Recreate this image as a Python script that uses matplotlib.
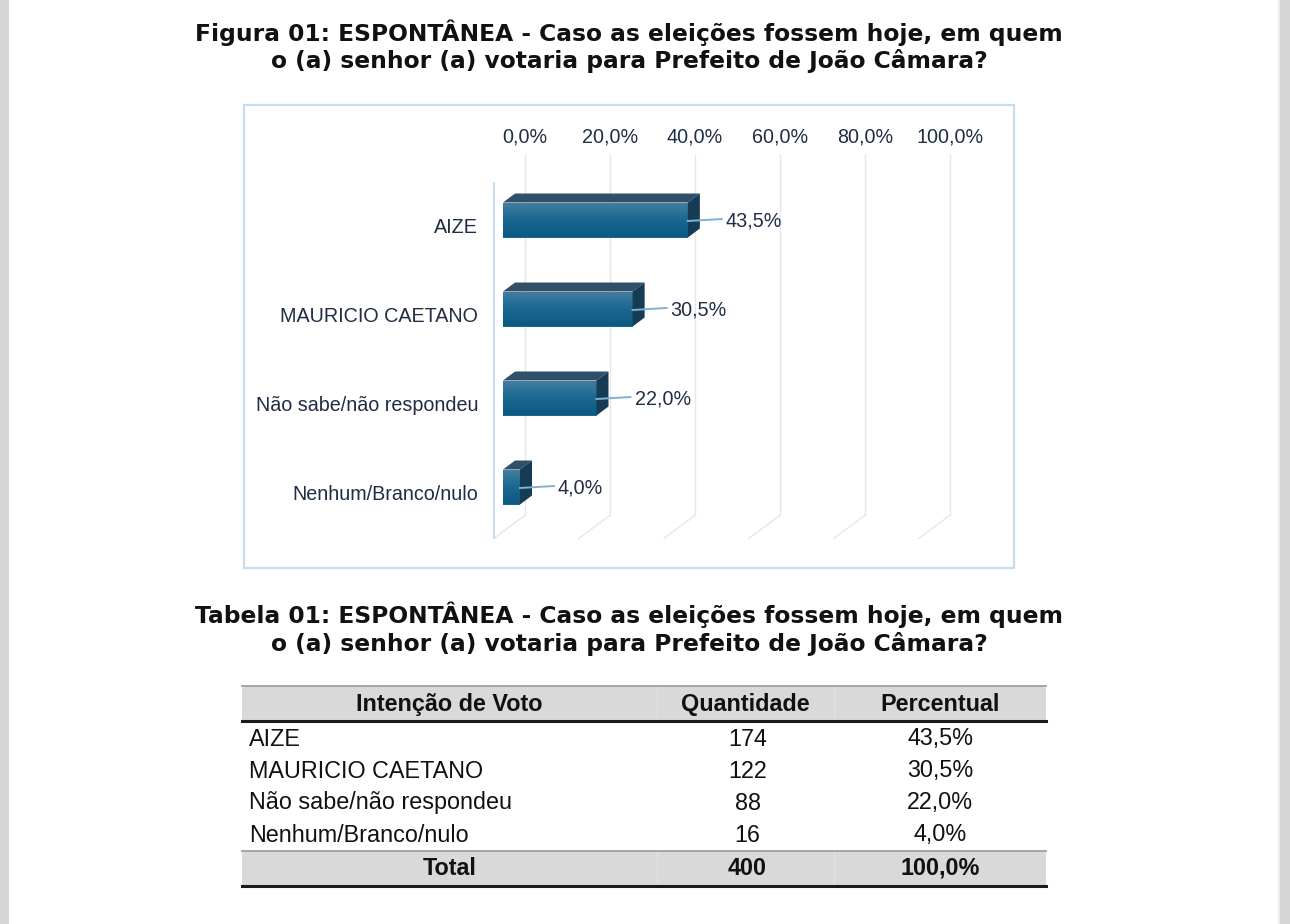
import matplotlib
matplotlib.use("Agg")
import matplotlib.pyplot as plt
import matplotlib.transforms as mtransforms
from matplotlib.patches import Rectangle, Polygon
from matplotlib.colors import LinearSegmentedColormap
import numpy as np

# data
categories = ["AIZE", "MAURICIO CAETANO", "Não sabe/não respondeu", "Nenhum/Branco/nulo"]
percentuais = [43.5, 30.5, 22.0, 4.0]
quantidades = [174, 122, 88, 16]
x_ticks = [0, 20, 40, 60, 80, 100]
cabecalho = ["Intenção de Voto", "Quantidade", "Percentual"]

titulo_fig = ["Figura 01: ESPONTÂNEA - Caso as eleições fossem hoje, em quem",
              "o (a) senhor (a) votaria para Prefeito de João Câmara?"]
titulo_tab = ["Tabela 01: ESPONTÂNEA - Caso as eleições fossem hoje, em quem",
              "o (a) senhor (a) votaria para Prefeito de João Câmara?"]

def fmt(v):
    return f"{v:.1f}%".replace(".", ",")

W, H = 1290, 924
fig = plt.figure(figsize=(W / 100, H / 100), dpi=100)
fig.patch.set_facecolor("white")

# page layer in pixel coords (y down)
bg = fig.add_axes([0, 0, 1, 1])
bg.set_xlim(0, W)
bg.set_ylim(H, 0)
bg.axis("off")

bg.add_patch(Rectangle((0, 0), 9, H, color="#d6d6d6", lw=0))
bg.add_patch(Rectangle((1280, 0), 10, H, color="#d6d6d6", lw=0))
bg.add_patch(Rectangle((1278, 0), 2, H, color="#ececec", lw=0))

for (y1, y2), linhas in [((33, 61), titulo_fig), ((615, 644), titulo_tab)]:
    for y, txt in zip((y1, y2), linhas):
        bg.text(629, y, txt, ha="center", va="center", fontsize=16.8, fontweight="bold",
                family="DejaVu Sans", color="#111111")

# chart frame
bg.add_patch(Rectangle((244, 105), 770, 463, fill=False, ec="#c8dcee", lw=1.6))

# bar chart axes
left, right, top, bottom = 494, 1000, 183, 538
ax = fig.add_axes([left / W, (H - bottom) / H, (right - left) / W, (bottom - top) / H])
ax.axis("off")
sx = 4.25   # px per %
sy = 89.0   # px per category
x0px, y0px = 503, 220
ax.set_xlim((left - x0px) / sx, (right - x0px) / sx)
ax.set_ylim((bottom - y0px) / sy, (top - y0px) / sy)

def plane(dx):
    # depth plane shifted dx px to the right and 0.75*dx px up
    return mtransforms.offset_copy(ax.transData, fig=fig, x=dx, y=0.75 * dx, units="dots")

back = plane(22)
front = plane(-9)
grid_c = "#e4e7eb"
floor_c = 3.5
cfont = dict(fontsize=14.2, family="Liberation Sans", color="#1f2d45")
for t in x_ticks:
    ax.plot([t, t], [-0.545, floor_c], color=grid_c, lw=1.0, transform=back, clip_on=False, zorder=1)
    ax.plot([t + 31 / sx, t], [floor_c - 23 / sy, floor_c],
            color=grid_c, lw=1.0, transform=front, clip_on=False, zorder=1)
    ax.text(t, -0.75, fmt(t), transform=back, ha="center", va="center", **cfont)

ax.plot([0, 0], [-0.49, floor_c], color="#c6d9ec", lw=1.3, transform=front, clip_on=False, zorder=2)

# bars (front face + gradient), top and side faces
h = 35 / sy
ddx, ddy = 12 / sx, 9 / sy
grad = LinearSegmentedColormap.from_list("g", ["#467ea2", "#1a6890", "#0c5a83"])
bars = ax.barh(range(len(categories)), percentuais, height=h, color="#1a6890", lw=0, zorder=3)
for i, (b, v) in enumerate(zip(bars, percentuais)):
    im = ax.imshow(np.linspace(0, 1, 50).reshape(-1, 1), cmap=grad, aspect="auto",
                   extent=(0, v, i + h / 2, i - h / 2), zorder=3)
    im.set_clip_path(b)
    yt, yb = i - h / 2, i + h / 2
    ax.add_patch(Polygon([(0, yt), (v, yt), (v + ddx, yt - ddy), (ddx, yt - ddy)],
                         closed=True, fc="#30506a", ec="none", zorder=4))
    ax.add_patch(Polygon([(v, yt), (v, yb), (v + ddx, yb - ddy), (v + ddx, yt - ddy)],
                         closed=True, fc="#163b55", ec="none", zorder=4))
    ax.plot([v, v + 34 / sx], [i + 1 / sy, i - 1 / sy], color="#7fb2d8", lw=1.4, zorder=5)
    ax.text(v + 38 / sx, i + 1 / sy, fmt(v), ha="left", va="center", zorder=5, **cfont)

for i, c in enumerate(categories):
    ax.text(0, i, c, transform=mtransforms.offset_copy(front, fig=fig, x=-16, y=-1, units="dots"),
            ha="right", va="center", **cfont)

ax.set_xlim((left - x0px) / sx, (right - x0px) / sx)
ax.set_ylim((bottom - y0px) / sy, (top - y0px) / sy)

# table
cols = [242, 657, 834, 1046]
cx = [(cols[k] + cols[k + 1]) / 2 for k in range(3)]
tfont = dict(family="Liberation Sans", fontsize=16.8, color="#111111")
hdr_top, hdr_bot = 686, 721
row_h = 32
first_row = 739

def gray_row(y_top, y_bot):
    bg.add_patch(Rectangle((cols[0], y_top), cols[3] - cols[0], y_bot - y_top, color="#d9d9d9", lw=0))
    for xs in cols[1:3]:
        bg.plot([xs, xs], [y_top, y_bot], color="#e3e3e3", lw=1)
    bg.plot([cols[0], cols[3]], [y_top, y_top], color="#a0a0a0", lw=1.3)
    bg.plot([cols[0], cols[3]], [y_bot, y_bot], color="#1a1a1a", lw=2.2)

gray_row(hdr_top, hdr_bot)
for k, txt in enumerate(cabecalho):
    bg.text(cx[k], (hdr_top + hdr_bot) / 2 + 1, txt, ha="center", va="center", fontweight="bold", **tfont)

for i, (n, q, p) in enumerate(zip(categories, quantidades, percentuais)):
    y = first_row + i * row_h
    bg.text(cols[0] + 7, y, n, ha="left", va="center", **tfont)
    bg.text(cx[1] + 2, y, str(q), ha="center", va="center", **tfont)
    bg.text(cx[2], y, fmt(p), ha="center", va="center", **tfont)

tot_top, tot_bot = 851, 886
gray_row(tot_top, tot_bot)
bg.text(cx[0], (tot_top + tot_bot) / 2, "Total", ha="center", va="center", fontweight="bold", **tfont)
bg.text(cx[1] + 2, (tot_top + tot_bot) / 2, str(sum(quantidades)), ha="center", va="center",
        fontweight="bold", **tfont)
bg.text(cx[2], (tot_top + tot_bot) / 2, fmt(sum(percentuais)), ha="center", va="center",
        fontweight="bold", **tfont)

fig.savefig("out.png", dpi=100, facecolor="white")
